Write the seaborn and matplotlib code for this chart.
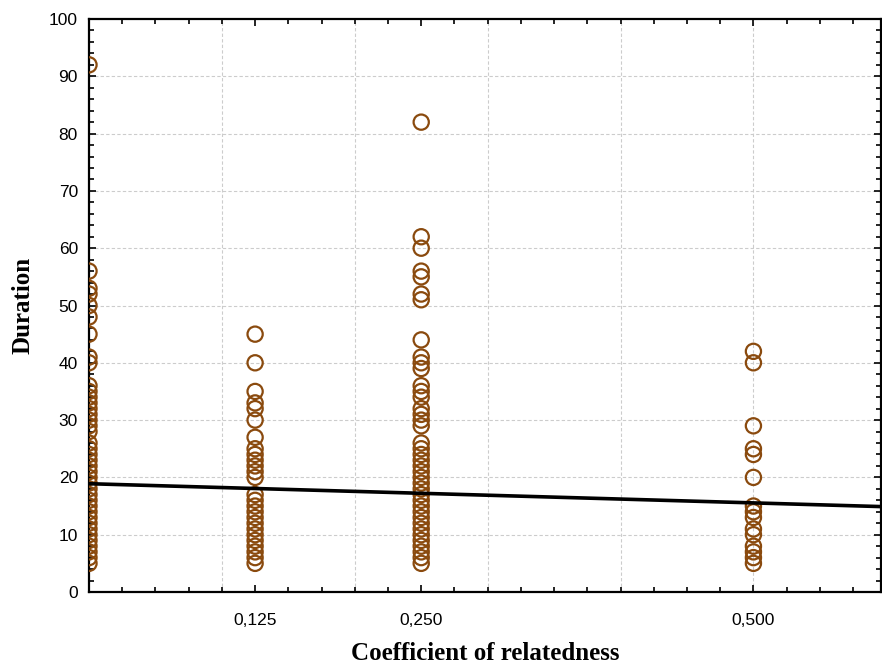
import numpy as np
import pandas as pd
import matplotlib
matplotlib.use("Agg")
import matplotlib.pyplot as plt
from matplotlib.ticker import MultipleLocator, FixedLocator, FixedFormatter
import seaborn as sns

# ---- data ----
relatedness_levels = [0.0, 0.125, 0.25, 0.5]
duration_r0 = [92, 56, 53, 52, 50, 48, 45, 41, 40, 36, 35, 34, 33, 32, 31, 30, 29, 28,
               26, 25, 24, 23, 22, 21, 20, 19, 18, 17, 16, 15, 14, 13, 12, 11, 10, 9, 8, 7, 6, 5]
duration_r125 = [45, 40, 35, 33, 32, 30, 27, 25, 24, 23, 22, 21, 20,
                 17, 16, 15, 14, 13, 12, 11, 10, 9, 8, 7, 6, 5]
duration_r250 = [82, 62, 60, 56, 55, 52, 51, 44, 41, 40, 39, 36, 35, 34, 32, 31, 30, 29,
                 26, 25, 24, 23, 22, 21, 20, 19, 18, 17, 16, 15, 14, 13, 12, 11, 10, 9, 8, 7, 6, 5]
duration_r500 = [42, 40, 29, 25, 24, 20, 15, 14, 13, 11, 10, 8, 7, 6, 5]
fit_intercept = 18.9
fit_slope = -6.7
x_tick_values = [0.125, 0.25, 0.5]
x_tick_labels = ["0,125", "0,250", "0,500"]
y_tick_values = [0, 10, 20, 30, 40, 50, 60, 70, 80, 90, 100]

groups = [duration_r0, duration_r125, duration_r250, duration_r500]
df = pd.DataFrame({
    "Coefficient of relatedness": np.concatenate([[r] * len(g) for r, g in zip(relatedness_levels, groups)]),
    "Duration": np.concatenate(groups),
})

xmin, xmax = 0.0, 0.596
fit_x = np.array([xmin, xmax])
fit_df = pd.DataFrame({"x": fit_x, "y": fit_intercept + fit_slope * fit_x})

# ---- figure ----
sns.set_theme(style="white")
plt.rcParams["font.family"] = ["Liberation Sans", "DejaVu Sans"]
plt.rcParams["text.color"] = "black"
plt.rcParams["axes.labelcolor"] = "black"

fig = plt.figure(figsize=(8.82, 6.68), dpi=100)
ax = fig.add_axes([89 / 882, 76 / 668, (881 - 89) / 882, (592 - 19) / 668])

# grid
for gx in [0.1, 0.2, 0.3, 0.4, 0.5]:
    ax.axvline(gx, color="#cccccc", lw=0.8, ls=(0, (3, 2)), zorder=0)
for gy in y_tick_values[1:-1]:
    ax.axhline(gy, color="#cccccc", lw=0.8, ls=(0, (3, 2)), zorder=0)

sns.scatterplot(data=df, x="Coefficient of relatedness", y="Duration", ax=ax,
                marker="o", s=120, facecolor="none", edgecolor="#8a4a0e",
                linewidth=1.6, zorder=3, legend=False)
sns.lineplot(data=fit_df, x="x", y="y", ax=ax, color="black", lw=2.6, zorder=4)

ax.set_xlim(xmin, xmax)
ax.set_ylim(0, 100)

ax.xaxis.set_major_locator(FixedLocator(x_tick_values))
ax.xaxis.set_major_formatter(FixedFormatter(x_tick_labels))
ax.xaxis.set_minor_locator(MultipleLocator(0.025))
ax.yaxis.set_major_locator(FixedLocator(y_tick_values))
ax.yaxis.set_minor_locator(MultipleLocator(2))

ax.tick_params(axis="both", which="both", direction="in", top=True, right=True,
               bottom=True, left=True, color="black")
ax.tick_params(axis="both", which="major", length=5, width=1.2, labelsize=12.5,
               colors="black", labelcolor="black")
ax.tick_params(axis="both", which="minor", length=3.5, width=1.2)
ax.tick_params(axis="x", which="major", pad=15)
ax.tick_params(axis="y", which="major", pad=8)

for sp in ax.spines.values():
    sp.set_visible(True)
    sp.set_color("black")
    sp.set_linewidth(1.6)

ax.set_xlabel("Coefficient of relatedness", fontsize=18, fontweight="bold",
              family=["Liberation Serif", "DejaVu Serif"], labelpad=10, color="black")
ax.set_ylabel("Duration", fontsize=18, fontweight="bold",
              family=["Liberation Serif", "DejaVu Serif"], labelpad=10, color="black")

fig.savefig("out.png", dpi=100)
